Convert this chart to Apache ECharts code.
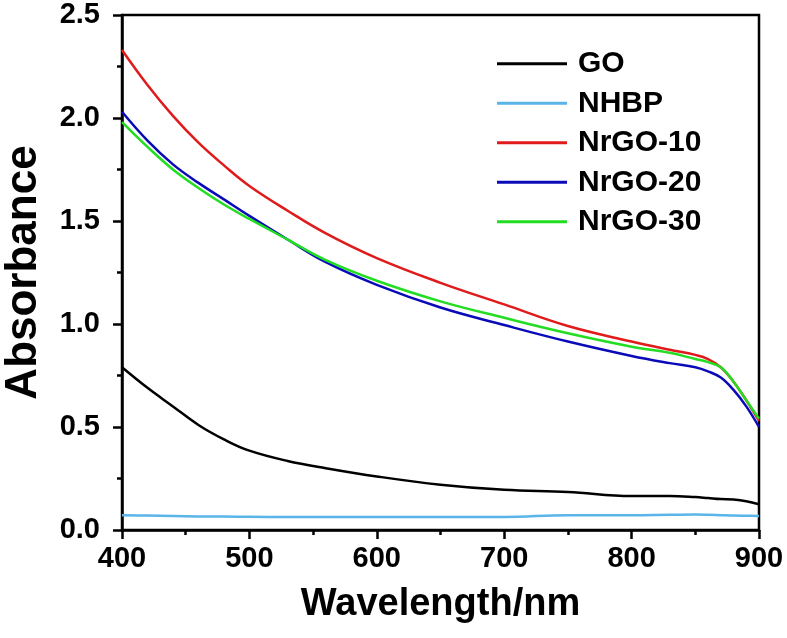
<!DOCTYPE html>
<html>
<head>
<meta charset="utf-8">
<script src="https://cdn.jsdelivr.net/npm/echarts@6/dist/echarts.min.js"></script>
<style>
html,body{margin:0;padding:0;background:#fff;}
#chart{width:787px;height:638px;}
</style>
</head>
<body>
<div id="chart"></div>
<script>
const wavelengths = [400, 420, 440, 460, 480, 500, 530, 560, 600, 650, 700, 750, 800, 830, 850, 860, 870, 880, 890, 900];
const GO       = [0.79, 0.69, 0.60, 0.51, 0.44, 0.385, 0.335, 0.30, 0.26, 0.22, 0.195, 0.185, 0.165, 0.165, 0.16, 0.155, 0.15, 0.148, 0.14, 0.125];
const NHBP     = [0.072, 0.070, 0.068, 0.066, 0.065, 0.064, 0.063, 0.063, 0.063, 0.063, 0.063, 0.072, 0.072, 0.074, 0.075, 0.074, 0.072, 0.070, 0.069, 0.068];
const NrGO10   = [2.33, 2.16, 2.01, 1.88, 1.77, 1.67, 1.55, 1.44, 1.32, 1.20, 1.095, 0.99, 0.915, 0.875, 0.85, 0.83, 0.79, 0.72, 0.63, 0.53];
const NrGO20   = [2.03, 1.89, 1.775, 1.685, 1.605, 1.525, 1.41, 1.30, 1.19, 1.08, 0.995, 0.915, 0.845, 0.81, 0.79, 0.77, 0.74, 0.68, 0.60, 0.50];
const NrGO30   = [1.98, 1.86, 1.75, 1.66, 1.58, 1.51, 1.41, 1.31, 1.21, 1.11, 1.03, 0.955, 0.89, 0.86, 0.83, 0.815, 0.79, 0.72, 0.63, 0.54];
const seriesNames = ['GO', 'NHBP', 'NrGO-10', 'NrGO-20', 'NrGO-30'];
const seriesData = [GO, NHBP, NrGO10, NrGO20, NrGO30];
const colors = ['#000000', '#5ab4e8', '#e01b1b', '#0a0ab8', '#22dd22'];

const FONT = '"Liberation Sans", Arial, sans-serif';
const chart = echarts.init(document.getElementById('chart'));
chart.setOption({
  animation: false,
  backgroundColor: '#fff',
  grid: {left: 122, right: 28, top: 15, bottom: 108, show: true, borderColor: '#000', borderWidth: 2.5,
         containLabel: false, outerBoundsMode: 'none'},
  legend: {
    orient: 'vertical', left: 497, top: 44, itemGap: 0, padding: 0,
    icon: 'rect', itemWidth: 70, itemHeight: 3,
    data: seriesNames,
    textStyle: {fontFamily: FONT, fontWeight: 'bold', fontSize: 30, color: '#000', lineHeight: 39.5, padding: [0, 0, 0, 6]}
  },
  xAxis: {
    type: 'value', min: 400, max: 900, interval: 100,
    name: 'Wavelength/nm', nameLocation: 'middle', nameGap: 56,
    nameTextStyle: {fontFamily: FONT, fontWeight: 'bold', fontSize: 38, color: '#000'},
    axisLine: {show: true, lineStyle: {color: '#000', width: 2.5}},
    axisTick: {show: true, inside: false, length: 9, lineStyle: {width: 2.5, color: '#000'}},
    minorTick: {show: true, splitNumber: 2, length: 5, lineStyle: {width: 2.5, color: '#000'}},
    splitLine: {show: false},
    axisLabel: {fontFamily: FONT, fontWeight: 'bold', fontSize: 29, color: '#000', margin: 14}
  },
  yAxis: {
    type: 'value', min: 0, max: 2.5, interval: 0.5,
    name: 'Absorbance', nameLocation: 'middle', nameGap: 76, nameRotate: 90,
    nameTextStyle: {fontFamily: FONT, fontWeight: 'bold', fontSize: 44, color: '#000'},
    axisLine: {show: true, lineStyle: {color: '#000', width: 2.5}},
    axisTick: {show: true, inside: false, length: 9, lineStyle: {width: 2.5, color: '#000'}},
    minorTick: {show: true, splitNumber: 2, length: 5, lineStyle: {width: 2.5, color: '#000'}},
    splitLine: {show: false},
    axisLabel: {fontFamily: FONT, fontWeight: 'bold', fontSize: 29, color: '#000', margin: 22,
      formatter: v => v.toFixed(1)}
  },
  series: seriesNames.map((n, i) => ({
    name: n, type: 'line', smooth: 0.4, symbol: 'none',
    data: wavelengths.map((w, j) => [w, seriesData[i][j]]),
    lineStyle: {color: colors[i], width: 2.5},
    itemStyle: {color: colors[i]},
    z: i === 3 ? 3 : (i === 4 ? 4 : 2)
  }))
});
</script>
</body>
</html>
